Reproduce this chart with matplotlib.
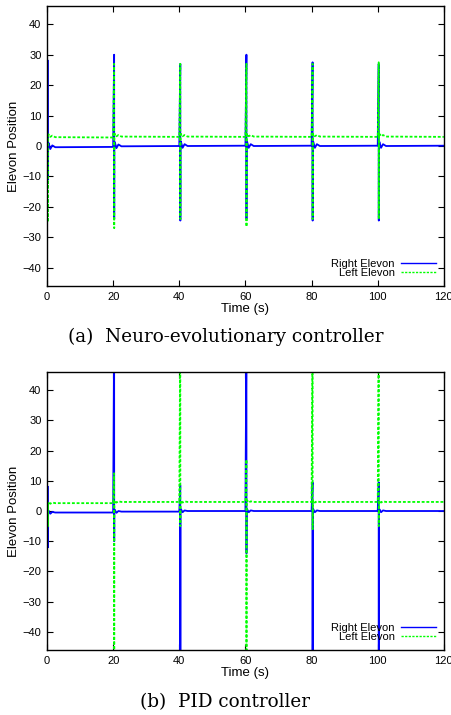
import numpy as np
import matplotlib.pyplot as plt

# disturbance times (s)
events = [0, 20, 40, 60, 80, 100]
t_end = 120

# (a) neuro-evolutionary controller
a_right_hi = [28, 30, 27, 30, 27.5, 27]
a_right_lo = [-11, -24, -24.5, -24, -24.5, -24.5]
a_right_base = [-0.3, 0.0, 0.1, 0.1, 0.1, 0.1]
a_right_ring = [1.3, -0.7, 0.5, -0.1]
a_left_hi = [4, 27, 27, 27, 27, 27.5]
a_left_lo = [-25, -27, -24, -26.5, -24, -24]
a_left_base = [2.8, 3.0, 3.0, 3.0, 3.0, 3.0]
a_left_ring = [1.0, 0.2, 0.6, 0.1]

# (b) PID controller (values beyond +-46 run off the plot)
b_right_hi = [8, 60, 8.5, 60, 9.5, 9.5]
b_right_lo = [-12, -10, -60, -14, -60, -60]
b_right_base = [-0.5, -0.2, 0.0, 0.0, 0.0, 0.0]
b_right_ring = [0.6, -0.4, 0.2, 0.0]
b_left_hi = [2, 12.5, 60, 17, 60, 60]
b_left_lo = [-5, -60, -5, -60, -6, -5]
b_left_base = [2.6, 3.0, 3.0, 3.0, 3.0, 3.0]
b_left_ring = [0.5, -0.2, 0.2, 0.0]

labels = ['Right Elevon', 'Left Elevon']
captions = ['(a)  Neuro-evolutionary controller', '(b)  PID controller']


def build(hi, lo, base, ring):
    t, y = [], []
    offs = [0.5, 1.0, 1.6, 2.5]
    for k, ev in enumerate(events):
        if k > 0:
            t.append(ev)
            y.append(base[k - 1])
        t += [ev + 0.3, ev + 0.32, ev + 0.35]
        y += [hi[k], lo[k], base[k]]
        for o, r in zip(offs, ring):
            t.append(ev + o)
            y.append(base[k] + r)
    t.append(t_end)
    y.append(base[-1])
    return t, y


plt.rcParams['font.family'] = ['Liberation Sans', 'DejaVu Sans']
fig = plt.figure(figsize=(4.51, 7.15), dpi=100)

panels = [
    ((a_right_hi, a_right_lo, a_right_base, a_right_ring),
     (a_left_hi, a_left_lo, a_left_base, a_left_ring),
     [0.1042, 0.600, 0.880, 0.3916], 0.5287),
    ((b_right_hi, b_right_lo, b_right_base, b_right_ring),
     (b_left_hi, b_left_lo, b_left_base, b_left_ring),
     [0.1042, 0.0909, 0.880, 0.3888], 0.0175),
]

for i, (right, left, rect, cap_y) in enumerate(panels):
    ax = fig.add_axes(rect)
    tr, yr = build(*right)
    tl, yl = build(*left)
    ax.plot(tr, yr, color='#0000ff', lw=1.3, label=labels[0])
    ax.plot(tl, yl, color='#00ff00', lw=1.3, dashes=(1.6, 1.0), label=labels[1])
    ax.set_xlim(0, 120)
    ax.set_ylim(-46, 46)
    ax.set_xticks(np.arange(0, 121, 20))
    ax.set_yticks(np.arange(-40, 41, 10))
    ax.tick_params(direction='in', length=4, width=0.8, top=True, right=True,
                   labelsize=8, pad=4)
    for s in ax.spines.values():
        s.set_linewidth(1.0)
    ax.set_xlabel('Time (s)', fontsize=9.5, labelpad=1)
    ax.set_ylabel('Elevon Position', fontsize=9.5, labelpad=2)
    leg = ax.legend(loc='lower right', markerfirst=False, frameon=False,
                    fontsize=8, handlelength=3.2, handletextpad=0.5,
                    labelspacing=-0.1, borderaxespad=0.3)
    for h in leg.get_lines():
        h.set_linewidth(1.0)
    fig.text(0.5, cap_y, captions[i], ha='center', va='center',
             fontsize=13.2, family='DejaVu Serif')

fig.savefig('out.png', dpi=100)
